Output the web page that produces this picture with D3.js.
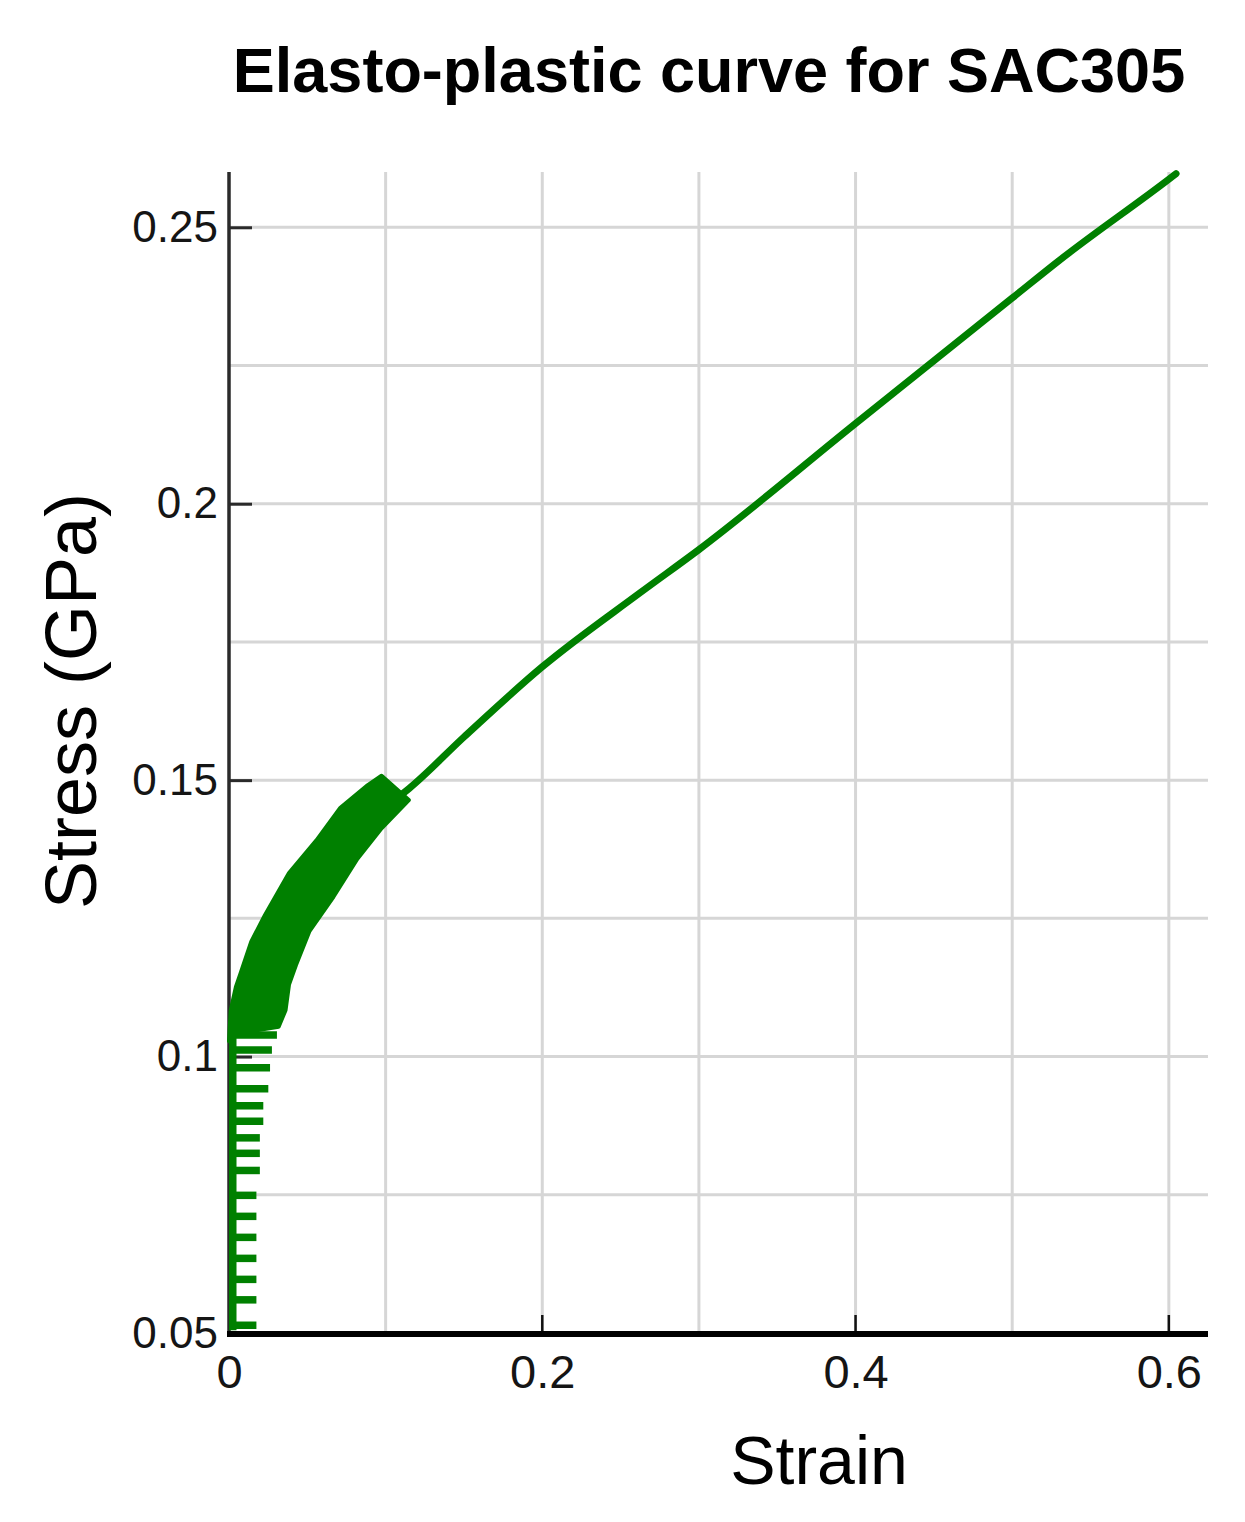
<!DOCTYPE html>
<html>
<head>
<meta charset="utf-8">
<script src="https://cdn.jsdelivr.net/npm/d3@7"></script>
<style>
  html, body { margin: 0; padding: 0; background: #ffffff; }
  svg { display: block; }
  text { font-family: "Liberation Sans", Arial, sans-serif; }
</style>
</head>
<body>
<div id="chart"></div>
<script>
// ---------- data ----------
const titleText = "Elasto-plastic curve for SAC305";
const xLabel = "Strain";
const yLabel = "Stress (GPa)";

const xDomain = [0, 0.625];
const yDomain = [0.05, 0.26];

const xTickValues = [0, 0.2, 0.4, 0.6];
const xTickLabels = ["0", "0.2", "0.4", "0.6"];
const yTickValues = [0.05, 0.1, 0.15, 0.2, 0.25];
const yTickLabels = ["0.05", "0.1", "0.15", "0.2", "0.25"];
const xGridValues = [0.1, 0.2, 0.3, 0.4, 0.5, 0.6];
const yGridValues = [0.075, 0.1, 0.125, 0.15, 0.175, 0.2, 0.225, 0.25];

// elastic segment (vertical rise near zero strain)
const elasticStrain = [0.0024, 0.0024];
const elasticStress = [0.0505, 0.108];

// unloading/reloading teeth below the dense band
const toothStress = [0.0514, 0.0560, 0.0597, 0.0635, 0.0673, 0.0711, 0.0749, 0.0794,
                     0.0825, 0.0853, 0.0883, 0.0911, 0.0942, 0.0980, 0.1012, 0.1039];
const toothStrain = [0.0175, 0.0175, 0.0175, 0.0175, 0.0175, 0.0175, 0.0175, 0.0197,
                     0.0197, 0.0197, 0.0219, 0.0219, 0.0251, 0.0262, 0.0274, 0.0306];

// dense cyclic band: left (upper) edge and right (lower) edge
const bandLeftStrain  = [0.0000, 0.0011, 0.0044, 0.0077, 0.0142, 0.0230, 0.0383, 0.0558, 0.0711, 0.0886, 0.0974];
const bandLeftStress  = [0.1028, 0.1084, 0.1126, 0.1153, 0.1208, 0.1256, 0.1332, 0.1391, 0.1450, 0.1491, 0.1508];
const bandRightStrain = [0.1148, 0.0974, 0.0820, 0.0667, 0.0514, 0.0427, 0.0383, 0.0361, 0.0317, 0.0020];
const bandRightStress = [0.1464, 0.1413, 0.1358, 0.1289, 0.1227, 0.1165, 0.1130, 0.1084, 0.1054, 0.1040];

// plastic hardening curve
const curveStrain = [0.100, 0.115, 0.150, 0.200, 0.262, 0.300, 0.400, 0.500, 0.530, 0.600, 0.6046];
const curveStress = [0.1452, 0.1485, 0.1578, 0.1705, 0.1838, 0.1917, 0.2145, 0.2372, 0.2440, 0.2587, 0.2597];

// ---------- layout ----------
const W = 1245, H = 1522;
const plot = { left: 229, right: 1208, top: 172, bottom: 1333 };
const green = "#008000";

const svg = d3.select("#chart").append("svg")
  .attr("width", W).attr("height", H);

const x = d3.scaleLinear().domain(xDomain).range([plot.left, plot.right]);
const y = d3.scaleLinear().domain(yDomain).range([plot.bottom, plot.top]);

// grid
const grid = svg.append("g");
grid.selectAll("line.gx").data(xGridValues).enter().append("line")
  .attr("class", "gx")
  .attr("x1", d => x(d)).attr("x2", d => x(d))
  .attr("y1", plot.top).attr("y2", plot.bottom)
  .attr("stroke", "#d6d6d6").attr("stroke-width", 3);
grid.selectAll("line.gy").data(yGridValues).enter().append("line")
  .attr("class", "gy")
  .attr("x1", plot.left).attr("x2", plot.right)
  .attr("y1", d => y(d)).attr("y2", d => y(d))
  .attr("stroke", "#d6d6d6").attr("stroke-width", 3);

// y axis
const yAxis = d3.axisLeft(y).tickValues(yTickValues)
  .tickFormat((d, i) => yTickLabels[i]).tickSize(-23).tickPadding(11);
const gy = svg.append("g").attr("transform", `translate(${plot.left},0)`).call(yAxis);
gy.select(".domain").remove();
gy.selectAll(".tick line").attr("stroke", "#2a2a2a").attr("stroke-width", 3);
gy.selectAll(".tick text").attr("font-size", 44).attr("fill", "#151515")
  .attr("font-family", "'Liberation Sans', Arial, sans-serif");
svg.append("line")
  .attr("x1", plot.left).attr("x2", plot.left)
  .attr("y1", plot.top).attr("y2", plot.bottom)
  .attr("stroke", "#2a2a2a").attr("stroke-width", 3.5);

// x axis
const xAxis = d3.axisBottom(x).tickValues(xTickValues)
  .tickFormat((d, i) => xTickLabels[i]).tickSize(0).tickPadding(22);
const gx = svg.append("g").attr("transform", `translate(0,${plot.bottom})`).call(xAxis);
gx.select(".domain").remove();
gx.selectAll(".tick text").attr("font-size", 47).attr("fill", "#151515")
  .attr("dy", "0.71em")
  .attr("font-family", "'Liberation Sans', Arial, sans-serif");
svg.append("g").selectAll("line").data(xTickValues.filter(v => v > 0)).enter().append("line")
  .attr("x1", d => x(d)).attr("x2", d => x(d))
  .attr("y1", plot.bottom).attr("y2", plot.bottom - 18)
  .attr("stroke", "#111").attr("stroke-width", 2.5);

// data marks
const lineGen = d3.line().x(d => x(d[0])).y(d => y(d[1]));
const smoothGen = d3.line().x(d => x(d[0])).y(d => y(d[1])).curve(d3.curveMonotoneX);
const marks = svg.append("g");

// dense band
const bandPts = bandLeftStrain.map((s, i) => [s, bandLeftStress[i]])
  .concat(bandRightStrain.map((s, i) => [s, bandRightStress[i]]));
marks.append("path")
  .attr("d", lineGen(bandPts) + "Z")
  .attr("fill", green).attr("stroke", green).attr("stroke-width", 4)
  .attr("stroke-linejoin", "round");

// teeth
const teeth = toothStress.map((s, i) => [s, toothStrain[i]]);
marks.selectAll("line.tooth").data(teeth).enter().append("line")
  .attr("class", "tooth")
  .attr("x1", x(elasticStrain[0])).attr("x2", d => x(d[1]))
  .attr("y1", d => y(d[0])).attr("y2", d => y(d[0]))
  .attr("stroke", green).attr("stroke-width", 7.5);

// elastic rise
marks.append("path")
  .attr("d", lineGen(elasticStrain.map((s, i) => [s, elasticStress[i]])))
  .attr("fill", "none").attr("stroke", green).attr("stroke-width", 7.5);

// hardening curve
marks.append("path")
  .attr("d", smoothGen(curveStrain.map((s, i) => [s, curveStress[i]])))
  .attr("fill", "none").attr("stroke", green).attr("stroke-width", 7)
  .attr("stroke-linejoin", "round").attr("stroke-linecap", "round");

// x axis thick line on top
svg.append("line")
  .attr("x1", plot.left - 2).attr("x2", plot.right)
  .attr("y1", plot.bottom + 1).attr("y2", plot.bottom + 1)
  .attr("stroke", "#000").attr("stroke-width", 6);

// title and labels
svg.append("text")
  .attr("x", 709).attr("y", 92)
  .attr("text-anchor", "middle")
  .attr("font-size", 63).attr("font-weight", "bold").attr("fill", "#000")
  .text(titleText);

svg.append("text")
  .attr("x", 819).attr("y", 1484)
  .attr("text-anchor", "middle")
  .attr("font-size", 68).attr("fill", "#000")
  .text(xLabel);

svg.append("text")
  .attr("transform", "translate(96,701) rotate(-90)")
  .attr("text-anchor", "middle")
  .attr("font-size", 72).attr("fill", "#000")
  .text(yLabel);
</script>
</body>
</html>
